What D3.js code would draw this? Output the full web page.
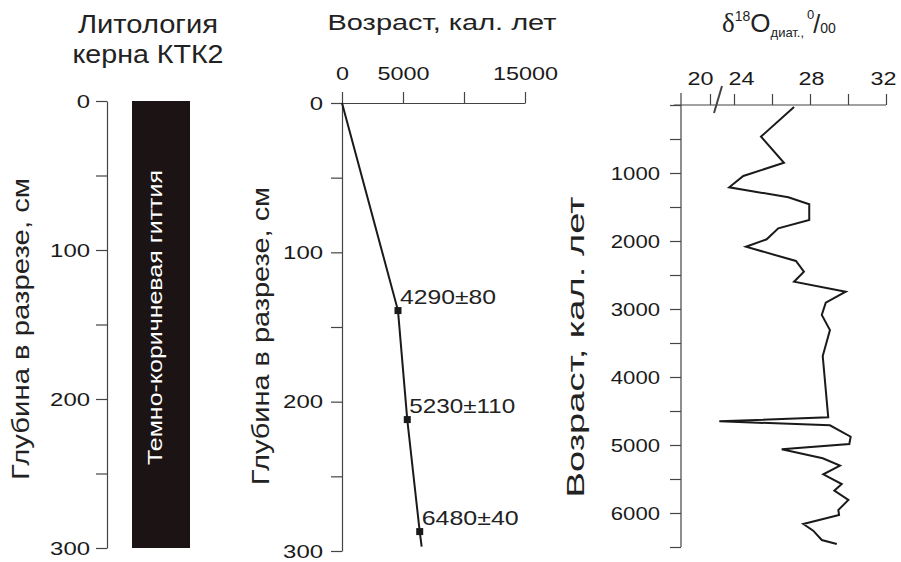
<!DOCTYPE html>
<html>
<head>
<meta charset="utf-8">
<script src="https://cdn.jsdelivr.net/npm/d3@7"></script>
<style>
  body { margin: 0; background: #fff; }
  svg text { font-family: "Liberation Sans", Arial, sans-serif; fill: #1a1a1a; }
</style>
</head>
<body>
<div id="fig"></div>
<script>
// lithology column
const lithTop = [0];
const lithBottom = [300];
const lithName = ["Темно-коричневая гиттия"];
const depthTicks = [0, 50, 100, 150, 200, 250, 300];

// age-depth model
const modelDepth = [0, 139, 212, 287, 297];
const modelAge = [0, 4590, 5350, 6370, 6530];
const dateDepth = [139, 212, 287];
const dateAge = [4590, 5350, 6370];
const dateLabel = ["4290±80", "5230±110", "6480±40"];
const ageTicks = [0, 5000, 10000, 15000];
const ageTickLabels = ["0", "5000", "", "15000"];

// diatom d18O record
const isoAge = [30, 466, 849, 1044, 1210, 1357, 1460, 1691, 1813, 1975, 2084, 2294, 2451, 2599,
  2746, 2907, 3088, 3309, 3691, 4593, 4652, 4710, 4878, 4985, 5063, 5196, 5304, 5431, 5574,
  5672, 5809, 5956, 6029, 6162, 6260, 6397, 6456];
const isoValue = [27.16, 25.42, 26.63, 24.49, 23.2, 26.86, 27.96, 27.96, 26.33, 25.72, 24.63,
  27.26, 27.68, 27.16, 29.88, 28.83, 28.62, 29.05, 28.67, 28.96, 21.55, 29.05, 30.14, 30.07,
  26.51, 28.67, 29.58, 28.7, 29.67, 29.28, 30.02, 29.49, 29.53, 27.65, 28.17, 28.62, 29.41];
const isoTicks = [20, 24, 26, 28, 30, 32];
const isoTickLabels = ["20", "24", "", "28", "", "32"];
const isoLabelShift = [-10, 7, 0, 1, 0, -3];
const yearTicks = d3.range(0, 6501, 500);

const W = 901, H = 562;
const ink = "#1a1a1a", axisInk = "#444";

const svg = d3.select("#fig").append("svg")
    .attr("width", W)
    .attr("height", H)
    .style("background", "#fff");

function stretch(sel, perChar) {
  sel.each(function() {
    const t = d3.select(this).text();
    if (t.length) d3.select(this).attr("textLength", t.length * perChar).attr("lengthAdjust", "spacingAndGlyphs");
  });
}

function styleAxis(g) {
  g.select(".domain").attr("stroke", axisInk).attr("stroke-width", 1.2);
  g.selectAll(".tick line").attr("stroke", axisInk).attr("stroke-width", 1.2);
  g.selectAll(".tick text").attr("fill", "#222").style("font-size", "19px");
}

function titleText(x, y, str, size, len, rotate) {
  const t = svg.append("text")
      .attr("text-anchor", "middle")
      .style("font-size", size + "px")
      .style("fill", "#222")
      .attr("textLength", len)
      .attr("lengthAdjust", "spacingAndGlyphs")
      .text(str);
  if (rotate) t.attr("transform", `translate(${x},${y}) rotate(-90)`);
  else t.attr("x", x).attr("y", y);
  return t;
}

// ---------- panel 1: lithology ----------
const y1 = d3.scaleLinear().domain([0, 300]).range([101, 548]);

titleText(148, 33, "Литология", 26, 140);
titleText(148, 63, "керна КТК2", 26, 151);
titleText(29, 329, "Глубина в разрезе, см", 24, 302, true);

const ax1 = svg.append("g")
    .attr("transform", "translate(107,0)")
    .call(d3.axisLeft(y1).tickValues(depthTicks).tickSize(11).tickPadding(6).tickSizeOuter(0)
      .tickFormat(d => d % 100 === 0 ? d : ""));
styleAxis(ax1);
stretch(ax1.selectAll(".tick text"), 13.3);

svg.selectAll("rect.lith")
  .data(lithTop)
  .join("rect")
    .attr("class", "lith")
    .attr("x", 132)
    .attr("width", 58)
    .attr("y", d => y1(d))
    .attr("height", (d, i) => y1(lithBottom[i]) - y1(d))
    .attr("fill", "#1c1414");

lithTop.forEach((d, i) => {
  titleText(162, (y1(d) + y1(lithBottom[i])) / 2 - 7, lithName[i], 20, 295, true)
    .style("fill", "#fff");
});

// ---------- panel 2: age-depth ----------
const y2 = d3.scaleLinear().domain([0, 300]).range([103, 551]);
const x2 = d3.scaleLinear().domain([0, 15000]).range([342, 525]);

titleText(442, 30, "Возраст, кал. лет", 22, 229);
titleText(269, 336, "Глубина в разрезе, см", 24, 298, true);

const ax2y = svg.append("g")
    .attr("transform", "translate(342,0)")
    .call(d3.axisLeft(y2).tickValues(depthTicks).tickSize(11).tickPadding(8).tickSizeOuter(0)
      .tickFormat(d => d % 100 === 0 ? d : ""));
styleAxis(ax2y);
stretch(ax2y.selectAll(".tick text"), 13.3);

const ax2x = svg.append("g")
    .attr("transform", `translate(0,${y2(0)})`)
    .call(d3.axisTop(x2).tickValues(ageTicks).tickSize(11).tickPadding(12).tickSizeOuter(0)
      .tickFormat((d, i) => ageTickLabels[i]));
styleAxis(ax2x);
stretch(ax2x.selectAll(".tick text"), 13);

const line2 = d3.line()
    .x((d, i) => x2(modelAge[i]))
    .y(d => y2(d));
svg.append("path")
    .datum(modelDepth)
    .attr("d", line2)
    .attr("fill", "none")
    .attr("stroke", ink)
    .attr("stroke-width", 2);

svg.selectAll("rect.date")
  .data(dateDepth)
  .join("rect")
    .attr("class", "date")
    .attr("x", (d, i) => x2(dateAge[i]) - 3.5)
    .attr("y", d => y2(d) - 3.5)
    .attr("width", 7)
    .attr("height", 7)
    .attr("fill", ink);

const dateLen = [96, 106, 97];
svg.selectAll("text.date")
  .data(dateDepth)
  .join("text")
    .attr("class", "date")
    .attr("x", (d, i) => x2(dateAge[i]) + 2)
    .attr("y", d => y2(d) - 7)
    .style("font-size", "21px")
    .style("fill", "#222")
    .attr("textLength", (d, i) => dateLen[i])
    .attr("lengthAdjust", "spacingAndGlyphs")
    .text((d, i) => dateLabel[i]);

// ---------- panel 3: d18O ----------
const y3 = d3.scaleLinear().domain([0, 6500]).range([105, 547]);
const x3 = d3.scaleLinear().domain([20, 24, 32]).range([710, 734, 886]);

titleText(584, 347, "Возраст, кал. лет", 24, 301, true);

const ttl = svg.append("text").attr("x", 722).attr("y", 32).style("font-size", "24px").style("fill", "#222");
ttl.append("tspan").text("δ").style("font-family", "'Liberation Serif', serif").style("font-size", "27px");
ttl.append("tspan").text("18").attr("dy", -11).style("font-size", "14px");
ttl.append("tspan").text("O").attr("dy", 11).style("font-size", "26px");
ttl.append("tspan").text("диат.,").attr("dy", 5).style("font-size", "13px");
ttl.append("tspan").text("0").attr("dx", 3).attr("dy", -18).style("font-size", "13px");
ttl.append("tspan").text("/").attr("dx", -1).attr("dy", 14).style("font-size", "25px");
ttl.append("tspan").text("00").attr("dy", 0).style("font-size", "14px");

const ax3y = svg.append("g")
    .attr("transform", "translate(681,0)")
    .call(d3.axisLeft(y3).tickValues(yearTicks).tickSize(11).tickPadding(10).tickSizeOuter(0)
      .tickFormat(d => d > 0 && d % 1000 === 0 ? d : ""));
styleAxis(ax3y);
stretch(ax3y.selectAll(".tick text"), 12.3);
ax3y.select(".domain").attr("d", `M0,93V${y3(6500)}`);

const ax3x = svg.append("g")
    .attr("transform", `translate(0,${y3(0)})`)
    .call(d3.axisTop(x3).tickValues(isoTicks).tickSize(11).tickPadding(9).tickSizeOuter(0)
      .tickFormat((d, i) => isoTickLabels[i]));
styleAxis(ax3x);
ax3x.select(".domain").attr("d", `M674,0H${x3(32)}`);
ax3x.selectAll(".tick text").attr("dx", (d, i) => isoLabelShift[i]);
stretch(ax3x.selectAll(".tick text"), 13);

// axis break
svg.append("line")
    .attr("x1", 714).attr("y1", 113).attr("x2", 722).attr("y2", 86)
    .attr("stroke", axisInk).attr("stroke-width", 2);

const line3 = d3.line()
    .x((d, i) => x3(isoValue[i]))
    .y(d => y3(d));
svg.append("path")
    .datum(isoAge)
    .attr("d", line3)
    .attr("fill", "none")
    .attr("stroke", ink)
    .attr("stroke-width", 2)
    .attr("stroke-linejoin", "miter");
</script>
</body>
</html>
